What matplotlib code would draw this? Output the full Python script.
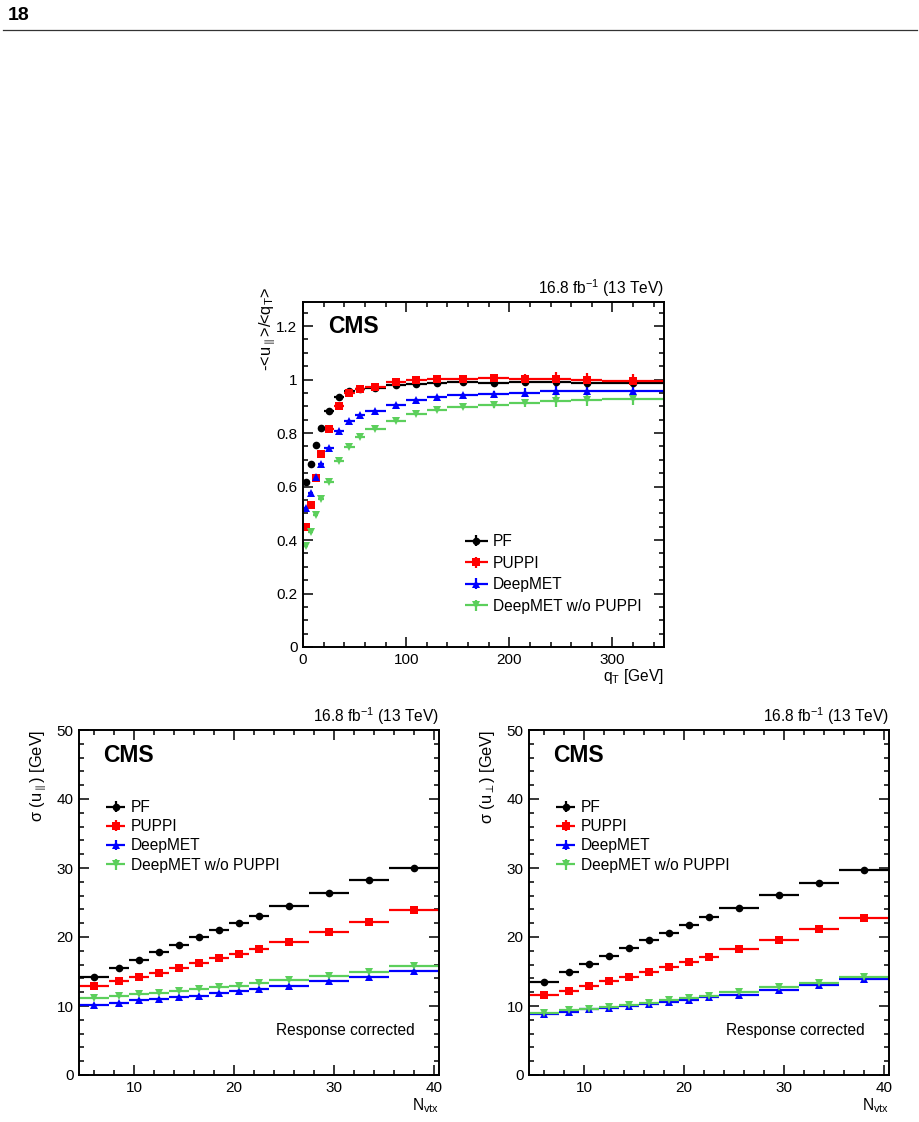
import matplotlib
matplotlib.use('Agg')
import matplotlib.pyplot as plt
from matplotlib.ticker import MultipleLocator
from matplotlib.container import ErrorbarContainer
from matplotlib.legend_handler import HandlerErrorbar
import numpy as np

plt.rcParams['font.family'] = ['Liberation Sans', 'DejaVu Sans']
plt.rcParams['mathtext.fontset'] = 'custom'
plt.rcParams['mathtext.rm'] = 'Liberation Sans'
plt.rcParams['mathtext.it'] = 'Liberation Sans:italic'
plt.rcParams['mathtext.bf'] = 'Liberation Sans:bold'

# response vs qT (top panel)
qt_edges = [0, 5, 10, 15, 20, 30, 40, 50, 60, 80, 100, 120, 140, 170, 200, 230, 260, 290, 350]
resp_pf = [0.616, 0.683, 0.756, 0.819, 0.881, 0.933, 0.958, 0.965, 0.968, 0.978, 0.983, 0.987, 0.991, 0.989, 0.991, 0.991, 0.988, 0.987]
resp_puppi = [0.449, 0.530, 0.632, 0.720, 0.814, 0.903, 0.948, 0.964, 0.974, 0.991, 0.998, 1.002, 1.002, 1.006, 1.002, 1.002, 1.000, 0.994]
resp_deepmet = [0.518, 0.576, 0.636, 0.685, 0.745, 0.806, 0.845, 0.866, 0.883, 0.906, 0.925, 0.935, 0.942, 0.947, 0.951, 0.956, 0.956, 0.956]
resp_nopuppi = [0.376, 0.430, 0.495, 0.552, 0.618, 0.694, 0.749, 0.785, 0.815, 0.846, 0.871, 0.885, 0.897, 0.906, 0.913, 0.920, 0.923, 0.926]
err_pf = [0.003, 0.003, 0.003, 0.003, 0.003, 0.003, 0.003, 0.003, 0.003, 0.003, 0.004, 0.004, 0.005, 0.007, 0.010, 0.014, 0.018, 0.016]
err_puppi = [0.004, 0.004, 0.004, 0.004, 0.004, 0.004, 0.004, 0.004, 0.004, 0.005, 0.005, 0.006, 0.008, 0.012, 0.019, 0.028, 0.025, 0.025]
err_deepmet = [0.004, 0.004, 0.004, 0.004, 0.004, 0.004, 0.004, 0.004, 0.004, 0.005, 0.005, 0.006, 0.008, 0.012, 0.018, 0.024, 0.028, 0.030]
err_nopuppi = [0.004, 0.004, 0.004, 0.004, 0.004, 0.004, 0.004, 0.004, 0.004, 0.005, 0.005, 0.006, 0.008, 0.012, 0.016, 0.022, 0.022, 0.020]

# resolution vs Nvtx (bottom panels)
nvtx_edges = [4.5, 7.5, 9.5, 11.5, 13.5, 15.5, 17.5, 19.5, 21.5, 23.5, 27.5, 31.5, 35.5, 40.5]
upar_pf = [14.15, 15.5, 16.6, 17.8, 18.9, 20.0, 21.0, 22.1, 23.1, 24.5, 26.4, 28.3, 30.0]
upar_puppi = [12.9, 13.6, 14.2, 14.8, 15.5, 16.2, 16.9, 17.6, 18.3, 19.3, 20.7, 22.2, 23.9]
upar_deepmet = [10.1, 10.5, 10.8, 11.0, 11.3, 11.5, 11.9, 12.2, 12.5, 12.9, 13.6, 14.25, 15.1]
upar_nopuppi = [11.2, 11.45, 11.7, 11.9, 12.2, 12.4, 12.7, 12.9, 13.3, 13.7, 14.35, 15.0, 15.85]
uperp_pf = [13.5, 15.0, 16.1, 17.3, 18.4, 19.6, 20.6, 21.7, 22.85, 24.2, 26.1, 27.8, 29.75]
uperp_puppi = [11.6, 12.2, 12.9, 13.6, 14.25, 15.0, 15.65, 16.4, 17.1, 18.2, 19.6, 21.1, 22.8]
uperp_deepmet = [8.85, 9.2, 9.5, 9.7, 10.05, 10.3, 10.6, 10.9, 11.25, 11.65, 12.3, 13.05, 13.9]
uperp_nopuppi = [9.05, 9.4, 9.6, 9.9, 10.2, 10.5, 10.8, 11.1, 11.5, 12.0, 12.7, 13.4, 14.25]
res_err = 0.1  # stat. uncertainty on resolution, ~invisible

labels = ['PF', 'PUPPI', 'DeepMET', 'DeepMET w/o PUPPI']
colors = ['black', '#ff0000', '#0000ff', '#5ccf5c']
markers = ['o', 's', '^', 'v']
msizes = [5.5, 5.5, 6, 6]
lumi = r'16.8 fb$^{-1}$ (13 TeV)'
FS = 11.2

fig = plt.figure(figsize=(9.2, 11.22), dpi=100)

# page header
fig.text(8 / 920, 1 - 15 / 1122, '18', fontsize=14, fontweight='bold', ha='left', va='center')
fig.add_artist(plt.Line2D([3 / 920, 917 / 920], [1 - 30 / 1122, 1 - 30 / 1122], color='#333333', lw=0.9))


def style_axes(ax):
    ax.tick_params(which='both', direction='in', top=True, right=True, labelsize=11, width=1.1)
    ax.tick_params(which='major', length=7.5, pad=4)
    ax.tick_params(which='minor', length=3.8)
    for s in ax.spines.values():
        s.set_linewidth(1.4)


def draw_series(ax, edges, series, errs):
    edges = np.array(edges, dtype=float)
    centers = 0.5 * (edges[:-1] + edges[1:])
    halfw = 0.5 * (edges[1:] - edges[:-1])
    handles = []
    for i, y in enumerate(series):
        h = ax.errorbar(centers, y, xerr=halfw, yerr=errs[i], fmt=markers[i], color=colors[i],
                        ms=msizes[i], elinewidth=1.6, capsize=0, mew=0, label=labels[i])
        handles.append(h)
    return handles


def add_legend(ax, hs, x0, y0, hlen, spacing):
    hmap = {ErrorbarContainer: HandlerErrorbar(xerr_size=hlen / 2, yerr_size=0.35)}
    ax.legend(handles=hs, loc='upper left', bbox_to_anchor=(x0 / 920, 1 - y0 / 1122),
              bbox_transform=fig.transFigure, frameon=False, fontsize=FS, borderpad=0, borderaxespad=0,
              handlelength=hlen, handletextpad=0.35, labelspacing=spacing, handler_map=hmap)


# top panel: response
ax = fig.add_axes([303 / 920, 1 - 647 / 1122, 361 / 920, 345 / 1122])
hs = draw_series(ax, qt_edges, [resp_pf, resp_puppi, resp_deepmet, resp_nopuppi],
                 [err_pf, err_puppi, err_deepmet, err_nopuppi])
ax.set_xlim(0, 350)
ax.set_ylim(0, 1.29)
ax.xaxis.set_major_locator(MultipleLocator(100))
ax.xaxis.set_minor_locator(MultipleLocator(20))
ax.yaxis.set_minor_locator(MultipleLocator(0.05))
ax.set_yticks([0, 0.2, 0.4, 0.6, 0.8, 1.0, 1.2])
ax.set_yticklabels(['0', '0.2', '0.4', '0.6', '0.8', '1', '1.2'])
style_axes(ax)
ax.text(0.069, 0.910, 'CMS', transform=ax.transAxes, fontsize=16.5, fontweight='bold', ha='left', va='baseline')
ax.text(1.0, 1.008, lumi, transform=ax.transAxes, fontsize=FS, ha='right', va='bottom')
ax.text(1.0, -0.058, r'q$_{\mathrm{T}}$ [GeV]', transform=ax.transAxes, fontsize=FS, ha='right', va='top')
ax.text(-0.10, 1.045, r'-<u$_{\parallel}$>/<q$_{\mathrm{T}}$>', transform=ax.transAxes, fontsize=11.8,
        rotation=90, ha='center', va='top')
add_legend(ax, hs, 465, 534, 1.45, 0.42)

# bottom panels: resolution
panels = [
    (79, 'σ (u$_{\\parallel}$) [GeV]', [upar_pf, upar_puppi, upar_deepmet, upar_nopuppi]),
    (529, 'σ (u$_{\\perp}$) [GeV]', [uperp_pf, uperp_puppi, uperp_deepmet, uperp_nopuppi]),
]
for left, ylab, data in panels:
    ax = fig.add_axes([left / 920, 1 - 1075 / 1122, 360 / 920, 345 / 1122])
    hs = draw_series(ax, nvtx_edges, data, [res_err] * 4)
    ax.set_xlim(4.5, 40.5)
    ax.set_ylim(0, 50)
    ax.xaxis.set_major_locator(MultipleLocator(10))
    ax.xaxis.set_minor_locator(MultipleLocator(2))
    ax.yaxis.set_major_locator(MultipleLocator(10))
    ax.yaxis.set_minor_locator(MultipleLocator(2))
    style_axes(ax)
    ax.text(0.067, 0.907, 'CMS', transform=ax.transAxes, fontsize=16.5, fontweight='bold', ha='left', va='baseline')
    ax.text(1.0, 1.008, lumi, transform=ax.transAxes, fontsize=FS, ha='right', va='bottom')
    ax.text(0.933, 0.116, 'Response corrected', transform=ax.transAxes, fontsize=FS, ha='right', va='baseline')
    ax.text(1.0, -0.062, r'N$_{\mathrm{vtx}}$', transform=ax.transAxes, fontsize=FS, ha='right', va='top')
    ax.text(-0.114, 1.0, ylab, transform=ax.transAxes, fontsize=11.8, rotation=90, ha='center', va='top')
    add_legend(ax, hs, left + 27, 800, 1.25, 0.27)

fig.savefig('out.png', dpi=100)
